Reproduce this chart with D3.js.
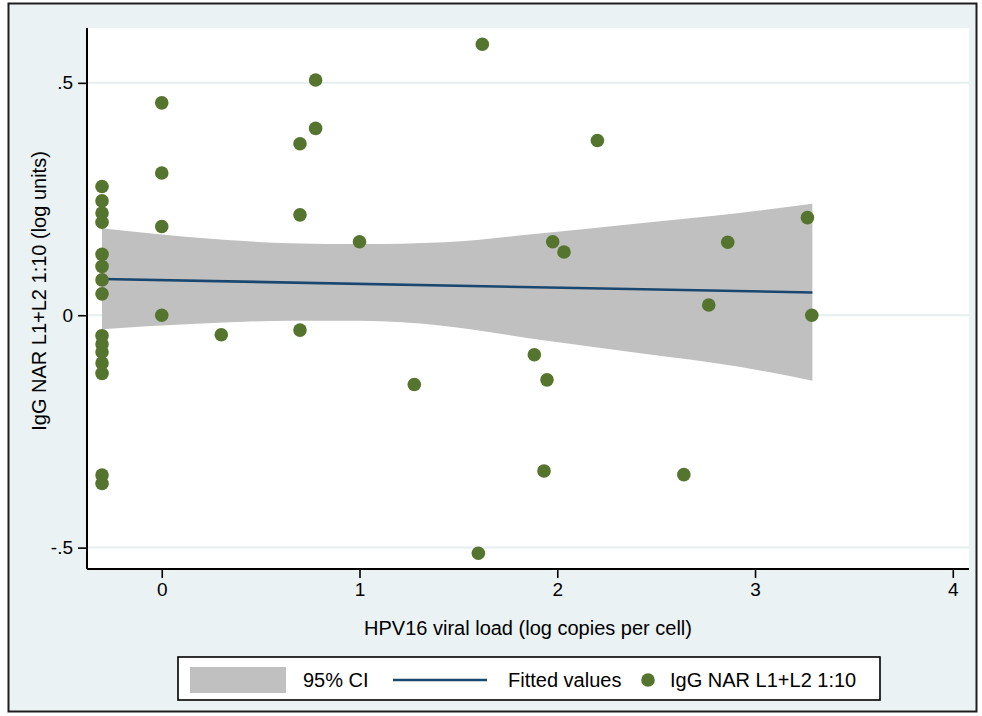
<!DOCTYPE html>
<html>
<head>
<meta charset="utf-8">
<script src="https://cdn.jsdelivr.net/npm/d3@7"></script>
<style>
  html, body { margin: 0; padding: 0; background: #ffffff; }
  svg { display: block; font-family: "Liberation Sans", Arial, sans-serif; }
</style>
</head>
<body>
<div id="chart"></div>
<script>
/* Stata-style scatter with linear fit and 95% CI band, redrawn in D3 v7. */

// scatter: HPV16 viral load (log copies per cell) vs IgG NAR L1+L2 1:10 (log units)
var pointX = [
  -0.302, -0.302, -0.302, -0.302, -0.302, -0.302, -0.302, -0.302,
  -0.302, -0.302, -0.302, -0.302, -0.302, -0.302, -0.302,
  0, 0, 0, 0, 0.301,
  0.699, 0.699, 0.699, 0.778, 0.778, 1.0, 1.277,
  1.621, 1.601, 1.884, 1.933, 1.948, 1.977, 2.034, 2.203,
  2.640, 2.766, 2.862, 3.265, 3.287
];
var pointY = [
  0.277, 0.246, 0.220, 0.200, 0.131, 0.105, 0.076, 0.046,
  -0.044, -0.062, -0.079, -0.103, -0.125, -0.344, -0.362,
  0.457, 0.306, 0.191, 0.000, -0.042,
  0.369, 0.216, -0.032, 0.506, 0.402, 0.158, -0.149,
  0.583, -0.512, -0.085, -0.335, -0.139, 0.158, 0.136, 0.376,
  -0.343, 0.022, 0.157, 0.210, 0.000
];

// fitted values (end points of the straight fit)
var fitX = [-0.302, 3.29];
var fitY = [0.078, 0.049];

// 95% CI band edges read at a handful of x positions
var bandX  = [-0.302, 0.15, 0.65, 1.0, 1.43, 1.91, 2.42, 2.92, 3.29];
var bandHi = [0.187, 0.168, 0.155, 0.153, 0.157, 0.176, 0.198, 0.220, 0.240];
var bandLo = [-0.030, -0.019, -0.012, -0.012, -0.023, -0.053, -0.082, -0.111, -0.141];

// axes
var xTicks = [0, 1, 2, 3, 4];
var yTicks = [-0.5, 0, 0.5];
var yTickLabels = ["-.5", "0", ".5"];
var xTitle = "HPV16 viral load (log copies per cell)";
var yTitle = "IgG NAR L1+L2 1:10 (log units)";
var legendLabels = ["95% CI", "Fitted values", "IgG NAR L1+L2 1:10"];

(function () {
  "use strict";

  var W = 982, H = 716;
  var L = 87, R = 969, T = 28, B = 569;
  var GREEN = "#55752f", NAVY = "#1a476f", BAND = "#c0c0c0", BG = "#eaf2f3";

  var x = d3.scaleLinear().domain([-0.378, 4.082]).range([L, R]);
  var y = d3.scaleLinear().domain([-0.546, 0.618]).range([B, T]);

  var svg = d3.select("#chart").append("svg")
    .attr("width", W).attr("height", H);

  /* outer background + frame */
  svg.append("rect").attr("x", 0).attr("y", 0).attr("width", W).attr("height", H).attr("fill", "#ffffff");
  svg.append("rect")
    .attr("x", 8.5).attr("y", 3.5).attr("width", 968).attr("height", 708)
    .attr("fill", BG).attr("stroke", "#1e1e1e").attr("stroke-width", 2);

  /* plot region */
  svg.append("rect")
    .attr("x", L).attr("y", T).attr("width", R - L).attr("height", B - T)
    .attr("fill", "#ffffff");

  /* grid lines */
  svg.append("g").selectAll("line")
    .data(yTicks)
    .enter().append("line")
    .attr("x1", L).attr("x2", R)
    .attr("y1", function (d) { return y(d); })
    .attr("y2", function (d) { return y(d); })
    .attr("stroke", "#e6eef0").attr("stroke-width", 2);

  /* CI band */
  var band = bandX.map(function (v, i) { return { x: v, lo: bandLo[i], hi: bandHi[i] }; });
  svg.append("path")
    .datum(band)
    .attr("fill", BAND)
    .attr("d", d3.area()
      .curve(d3.curveMonotoneX)
      .x(function (d) { return x(d.x); })
      .y0(function (d) { return y(d.lo); })
      .y1(function (d) { return y(d.hi); }));

  /* fitted line */
  svg.append("path")
    .datum(fitX.map(function (v, i) { return [v, fitY[i]]; }))
    .attr("fill", "none")
    .attr("stroke", NAVY)
    .attr("stroke-width", 2.6)
    .attr("d", d3.line()
      .x(function (d) { return x(d[0]); })
      .y(function (d) { return y(d[1]); }));

  /* scatter points */
  svg.append("g").selectAll("circle")
    .data(pointX.map(function (v, i) { return [v, pointY[i]]; }))
    .enter().append("circle")
    .attr("cx", function (d) { return x(d[0]); })
    .attr("cy", function (d) { return y(d[1]); })
    .attr("r", 6.8)
    .attr("fill", GREEN);

  /* axes */
  var yAxis = svg.append("g")
    .attr("transform", "translate(" + L + ",0)")
    .call(d3.axisLeft(y).tickValues(yTicks)
      .tickFormat(function (d, i) { return yTickLabels[i]; })
      .tickSize(9).tickPadding(5));
  var xAxis = svg.append("g")
    .attr("transform", "translate(0," + B + ")")
    .call(d3.axisBottom(x).tickValues(xTicks).tickFormat(d3.format("d"))
      .tickSize(9).tickPadding(5));

  [yAxis, xAxis].forEach(function (g) {
    g.select(".domain").attr("stroke", "#000").attr("stroke-width", 2);
    g.selectAll(".tick line").attr("stroke", "#000").attr("stroke-width", 1.6);
    g.selectAll(".tick text")
      .attr("fill", "#000")
      .style("font-family", "'Liberation Sans', Arial, sans-serif")
      .style("font-size", "19px");
  });
  // y domain line should not extend past the plot corners
  yAxis.select(".domain").attr("d", "M0," + T + "V" + B);
  xAxis.select(".domain").attr("d", "M" + L + ",0H" + R);

  /* axis titles */
  svg.append("text")
    .attr("x", (L + R) / 2).attr("y", 635)
    .attr("text-anchor", "middle")
    .style("font-size", "20px")
    .text(xTitle);
  svg.append("text")
    .attr("transform", "translate(46,291) rotate(-90)")
    .attr("text-anchor", "middle")
    .style("font-size", "20px")
    .text(yTitle);

  /* legend */
  var lg = svg.append("g");
  lg.append("rect")
    .attr("x", 178).attr("y", 657).attr("width", 702).attr("height", 43)
    .attr("fill", "#ffffff").attr("stroke", "#000").attr("stroke-width", 1.6);
  lg.append("rect")
    .attr("x", 190).attr("y", 667).attr("width", 96).attr("height", 26)
    .attr("fill", BAND);
  lg.append("line")
    .attr("x1", 393).attr("x2", 487).attr("y1", 680).attr("y2", 680)
    .attr("stroke", NAVY).attr("stroke-width", 2.6);
  lg.append("circle")
    .attr("cx", 648).attr("cy", 680).attr("r", 6.8).attr("fill", GREEN);
  var lx = [303, 508, 670];
  lg.selectAll("text")
    .data(legendLabels)
    .enter().append("text")
    .attr("x", function (d, i) { return lx[i]; })
    .attr("y", 687)
    .style("font-size", "20px")
    .text(function (d) { return d; });
})();
</script>
</body>
</html>
